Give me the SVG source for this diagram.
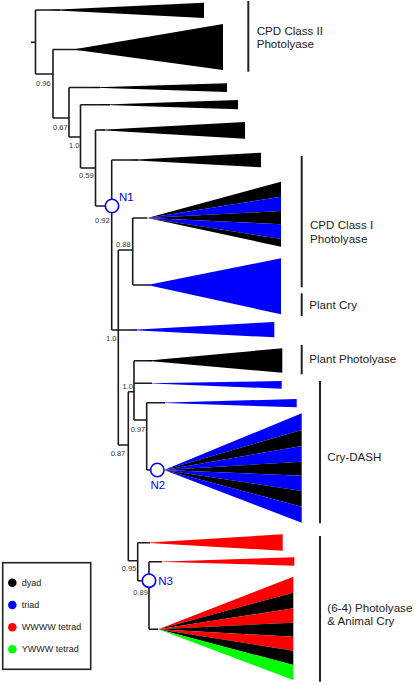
<svg xmlns="http://www.w3.org/2000/svg" width="414" height="685" viewBox="0 0 414 685">
<style>
.br{fill:none;stroke:#1a1a1a;stroke-width:1.6}
.k{fill:#000}
.b{fill:#0000ff}
.r{fill:#ff0000}
.g{fill:#00ff00}
.bs{font-family:"Liberation Sans",Arial,sans-serif;font-size:7.5px;fill:#333}
.nl{font-family:"Liberation Sans",Arial,sans-serif;font-size:11.5px;fill:#0000ff}
.nc{fill:#fff;stroke:#0000ff;stroke-width:1.6}
.cl{font-family:"Liberation Sans",Arial,sans-serif;font-size:11.6px;fill:#222}
.bar{stroke:#222;stroke-width:2}
.lg{font-family:"Liberation Sans",Arial,sans-serif;font-size:9px;fill:#222}
</style>
<rect width="414" height="685" fill="#fff"/>
<g id="connectors">
<path class="br" d="M31,42.3H35.5 M35.5,10V74 M35.5,10H60 M35.5,74H53 M53,49.5V118 M53,49.5H85 M53,118H69 M69,87.5V137 M69,87.5H100 M69,137H80.5 M80.5,104.7V168 M80.5,104.7H110 M80.5,168H95.5 M95.5,130V206 M95.5,130H105 M95.5,206H106 M111.7,160V330 M111.7,160H138 M111.7,330H137 M118.3,250V445 M118.3,250H132.7 M132.7,218V285 M132.7,218H147.3 M132.7,285H150 M118.3,445H128.3 M128.3,391.7V560.7 M128.3,391.7H134 M134,360.7V420 M134,360.7H152 M134,383.3H152 M134,420H146.7 M146.7,402.7V470 M146.7,402.7H165 M146.7,470H151 M128.3,560.7H137.7 M137.7,542.7V580.7 M137.7,542.7H150 M137.7,580.7H143 M149,561.7V629.3 M149,561.7H162 M149,629.3H158.3"/>
</g>
<g id="clade-cpd2a"><polygon class="k" points="48,10 204,2.7 204,18"/></g>
<g id="clade-cpd2b"><polygon class="k" points="73,49.5 223,24 223,70"/></g>
<g id="clade-3"><polygon class="k" points="88,87.5 227,83.3 227,92"/></g>
<g id="clade-4"><polygon class="k" points="98,104.7 238,100 238,109.3"/></g>
<g id="clade-5"><polygon class="k" points="97,130 245,122 245,138.7"/></g>
<g id="clade-6"><polygon class="k" points="128,160 261,152.7 261,167.3"/></g>
<g id="clade-cpd1">
<polygon class="k" points="147.3,218 281,181.7 281,196.7"/>
<polygon class="b" points="147.3,218 281,196.7 281,211"/>
<polygon class="k" points="147.3,218 281,211 281,224.3"/>
<polygon class="b" points="147.3,218 281,224.3 281,239"/>
<polygon class="k" points="147.3,218 281,239 281,246.7"/>
</g>
<g id="clade-plantcry"><polygon class="b" points="147.3,285 281,258.3 281,314.3"/></g>
<g id="clade-blue1"><polygon class="b" points="129,330 274.3,322 274.3,337.3"/></g>
<g id="clade-plantphot"><polygon class="k" points="146,360.7 282.3,348.3 282.3,372.7"/></g>
<g id="clade-blue2"><polygon class="b" points="146,383.3 281.7,381 281.7,388.7"/></g>
<g id="clade-blue3"><polygon class="b" points="158,402.7 296.7,399 296.7,407.3"/></g>
<g id="clade-dash">
<polygon class="b" points="164,470 301.7,413.3 301.7,430"/>
<polygon class="k" points="164,470 301.7,430 301.7,446"/>
<polygon class="b" points="164,470 301.7,446 301.7,461.7"/>
<polygon class="k" points="164,470 301.7,461.7 301.7,475.7"/>
<polygon class="b" points="164,470 301.7,475.7 301.7,491"/>
<polygon class="k" points="164,470 301.7,491 301.7,506.7"/>
<polygon class="b" points="164,470 301.7,506.7 301.7,522.7"/>
</g>
<g id="clade-red1"><polygon class="r" points="145,542.7 282.7,534.3 282.7,550.7"/></g>
<g id="clade-red2"><polygon class="r" points="157,561.7 294.3,557.3 294.3,565.7"/></g>
<g id="clade-64">
<polygon class="r" points="158.3,629.3 293.3,576.7 293.3,592.7"/>
<polygon class="k" points="158.3,629.3 293.3,592.7 293.3,608.3"/>
<polygon class="r" points="158.3,629.3 293.3,608.3 293.3,622.7"/>
<polygon class="k" points="158.3,629.3 293.3,622.7 293.3,636.7"/>
<polygon class="r" points="158.3,629.3 293.3,636.7 293.3,650.7"/>
<polygon class="k" points="158.3,629.3 293.3,650.7 293.3,665"/>
<polygon class="g" points="158.3,629.3 293.3,665 293.3,680"/>
</g>
<g id="support-values">
<text class="bs" x="36" y="85.7">0.96</text>
<text class="bs" x="53" y="129.7">0.67</text>
<text class="bs" x="69" y="147.7">1.0</text>
<text class="bs" x="79" y="177.5">0.59</text>
<text class="bs" x="95" y="222.5">0.92</text>
<text class="bs" x="116" y="246.5">0.88</text>
<text class="bs" x="106" y="340.5">1.0</text>
<text class="bs" x="122.5" y="389">1.0</text>
<text class="bs" x="130.7" y="431.5">0.97</text>
<text class="bs" x="110.7" y="455.5">0.87</text>
<text class="bs" x="121.7" y="571">0.95</text>
<text class="bs" x="133.3" y="595">0.89</text>
</g>
<g id="N1"><circle class="nc" cx="112" cy="206" r="6.7"/><text class="nl" x="119" y="200.5">N1</text></g>
<g id="N2"><circle class="nc" cx="157.3" cy="470" r="6.7"/><text class="nl" x="150.5" y="489">N2</text></g>
<g id="N3"><circle class="nc" cx="149" cy="580.7" r="6.7"/><text class="nl" x="158.3" y="585">N3</text></g>
<g id="group-labels">
<line class="bar" x1="248.3" y1="1" x2="248.3" y2="71.7"/>
<text class="cl" x="256.7" y="35">CPD Class II</text>
<text class="cl" x="256.7" y="48.3">Photolyase</text>
<line class="bar" x1="301.7" y1="156" x2="301.7" y2="287.3"/>
<text class="cl" x="310" y="229.3">CPD Class I</text>
<text class="cl" x="310" y="242.7">Photolyase</text>
<line class="bar" x1="301.7" y1="293.3" x2="301.7" y2="316"/>
<text class="cl" x="309.3" y="308.5">Plant Cry</text>
<line class="bar" x1="301.7" y1="345" x2="301.7" y2="374.3"/>
<text class="cl" x="309.3" y="363">Plant Photolyase</text>
<line class="bar" x1="320" y1="381" x2="320" y2="523.3"/>
<text class="cl" x="327.3" y="460.5">Cry-DASH</text>
<line class="bar" x1="320" y1="536" x2="320" y2="681.7"/>
<text class="cl" x="327.3" y="611.7">(6-4) Photolyase</text>
<text class="cl" x="327.3" y="625">&amp; Animal Cry</text>
</g>
<g id="legend">
<rect x="2.7" y="562.7" width="88" height="106.6" fill="#fff" stroke="#222" stroke-width="1.6"/>
<circle cx="12.3" cy="582.7" r="4.3" fill="#000"/>
<text class="lg" x="21.7" y="585.8">dyad</text>
<circle cx="12.3" cy="605" r="4.3" fill="#0000ff"/>
<text class="lg" x="21.7" y="608.1">triad</text>
<circle cx="12.3" cy="627.3" r="4.3" fill="#ff0000"/>
<text class="lg" x="21.7" y="630.4">WWWW tetrad</text>
<circle cx="12.3" cy="649.3" r="4.3" fill="#00ff00"/>
<text class="lg" x="21.7" y="652.4">YWWW tetrad</text>
</g>
</svg>
